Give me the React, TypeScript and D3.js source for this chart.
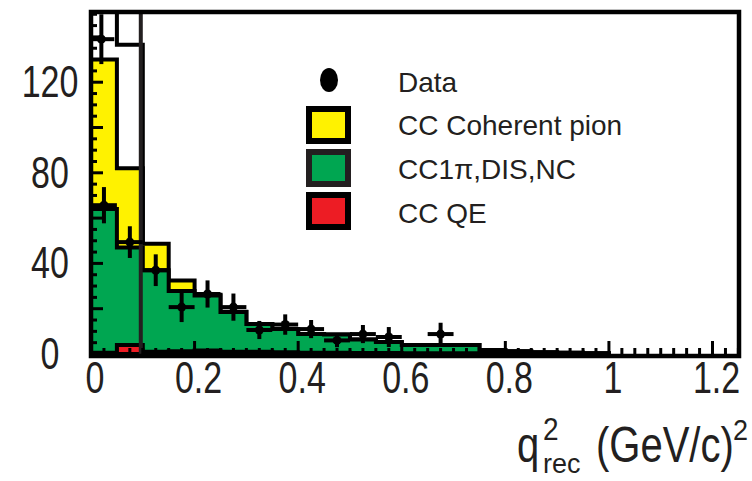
import React from 'react';
import * as d3 from 'd3';

// bin width 0.05 GeV^2, bins start at 0
const binWidth = 0.05;
const ccCoherent = [66, 35, 11.7, 4.6, 0.4, 0.2, 0.1, 0, 0, 0, 0, 0, 0, 0, 0, 0, 0, 0, 0, 0];
const cc1piDisNc = [63.5, 43, 36, 26.6, 24.3, 17.5, 12.2, 10.2, 8.2, 8.1, 6, 4.9, 3.7, 3.7, 3.7, 1.6, 1, 0.7, 0.4, 0.2];
const ccQE = [0.5, 4, 1, 1.2, 1.5, 1, 1, 0.8, 0.6, 0.5, 0.4, 0.4, 0.3, 0.3, 0.3, 0.2, 0.2, 0.1, 0.1, 0.1];
// open histogram in the signal region (q2 < 0.1)
const openHist = [175, 136.5];

const dataQ = [0.02, 0.025, 0.075, 0.125, 0.175, 0.225, 0.275, 0.325, 0.375, 0.425, 0.475, 0.525, 0.575, 0.675];
const dataN = [139, 65.7, 49.4, 37, 20.7, 26.5, 20.7, 10.6, 13, 11, 6, 8.8, 7.5, 8.8];
const dataErr = [11, 8, 7, 7, 6.6, 6, 6, 4, 4.5, 4, 3, 4, 4.4, 5];

const xTicks = [0, 0.2, 0.4, 0.6, 0.8, 1, 1.2];
const xTickLabels = ['0', '0.2', '0.4', '0.6', '0.8', '1', '1.2'];
const yTicks = [0, 40, 80, 120];

const legendItems = [
  { label: 'CC Coherent pion', color: '#fff200', stroke: '#000' },
  { label: 'CC1\u03c0,DIS,NC', color: '#00a651', stroke: '#231f20' },
  { label: 'CC QE', color: '#ed1c24', stroke: '#000' },
];

const W = 752;
const H = 481;
const font = '"Liberation Sans", Arial, Helvetica, sans-serif';
const ink = '#231f20';

export default function App() {
  const x = d3.scaleLinear().domain([0, 1.255]).range([91, 741]);
  const y = d3.scaleLinear().domain([0, 151]).range([354, 12]);

  const stackQE = ccQE;
  const stackGreen = cc1piDisNc.map((v, i) => v + ccQE[i]);
  const stackYellow = ccCoherent.map((v, i) => v + stackGreen[i]);

  const line = d3.line<[number, number]>().x(d => x(d[0])).y(d => y(d[1]));
  const histPath = (vals: number[]) => {
    const pts: [number, number][] = [[0, 0]];
    vals.forEach((v, i) => {
      pts.push([i * binWidth, v]);
      pts.push([(i + 1) * binWidth, v]);
    });
    pts.push([vals.length * binWidth, 0]);
    return line(pts) + 'Z';
  };

  const minorX = d3.range(0, 1.2501, 0.025);
  const minorY = d3.range(0, 151, 5);

  return (
    <svg width={W} height={H} style={{ position: 'absolute', left: 0, top: 0, background: '#fff' }}>
      <defs>
        <clipPath id="plot">
          <rect x={91} y={12} width={648} height={343} />
        </clipPath>
      </defs>
      <g clipPath="url(#plot)">
        <path d={histPath(openHist)} fill="#fff" stroke="#000" strokeWidth={4} />
        <path d={histPath(stackYellow)} fill="#fff200" stroke="#000" strokeWidth={4} />
        <path d={histPath(stackGreen)} fill="#00a651" stroke="#000" strokeWidth={4} />
        <path d={histPath(stackQE)} fill="#ed1c24" stroke="#000" strokeWidth={4} />
        <line x1={x(0.1) - 2} x2={x(0.1) - 2} y1={y(151)} y2={y(0)} stroke={ink} strokeWidth={4} />
        {dataQ.map((q, i) => (
          <g key={i}>
            <line x1={x(q - binWidth / 2)} x2={x(q + binWidth / 2)} y1={y(dataN[i])} y2={y(dataN[i])} stroke="#000" strokeWidth={4} />
            <line x1={x(q)} x2={x(q)} y1={y(dataN[i] - dataErr[i])} y2={y(dataN[i] + dataErr[i])} stroke="#000" strokeWidth={4} />
            <circle cx={x(q)} cy={y(dataN[i])} r={4.5} fill="#000" />
          </g>
        ))}
      </g>

      {/* ticks */}
      {minorX.map((t, i) => {
        const major = Math.abs(t / 0.2 - Math.round(t / 0.2)) < 1e-6;
        return <line key={'mx' + i} x1={x(t)} x2={x(t)} y1={354} y2={354 - (major ? 13 : 6)} stroke="#000" strokeWidth={3} />;
      })}
      {minorY.map((t, i) => (
        <line key={'my' + i} x1={91} x2={91 + (t % 20 === 0 ? 12 : 6)} y1={y(t)} y2={y(t)} stroke="#000" strokeWidth={3} />
      ))}

      <rect x={91} y={12} width={648} height={344} fill="none" stroke="#000" strokeWidth={4.5} />

      {xTicks.map((t, i) => (
        <text key={'xl' + i} transform={`translate(${x(t) + 4},${393}) scale(1,1.3)`} textAnchor="middle"
          fontFamily={font} fontSize={34} fill={ink}>{xTickLabels[i]}</text>
      ))}
      {yTicks.map((t, i) => (
        <text key={'yl' + i} transform={`translate(50,${y(t) + 15}) scale(1,1.3)`} textAnchor="middle"
          fontFamily={font} fontSize={34} fill={ink}>{t}</text>
      ))}

      {/* axis title */}
      <g fontFamily={font} fill={ink}>
        <text transform="translate(517,462) scale(1,1.25)" fontSize={40}>q</text>
        <text transform="translate(543,440) scale(1,1.1)" fontSize={28}>2</text>
        <text transform="translate(543,473) scale(1,1.05)" fontSize={27}>rec</text>
        <text transform="translate(596,462) scale(1,1.25)" fontSize={40}>(GeV/c)</text>
        <text transform="translate(733,440) scale(1,1.1)" fontSize={27}>2</text>
      </g>

      {/* legend */}
      <ellipse cx={329} cy={80} rx={9} ry={12} fill="#000" />
      <text x={398} y={92} fontFamily={font} fontSize={28} fill={ink}>Data</text>
      {legendItems.map((d, i) => (
        <g key={d.label}>
          <rect x={309} y={109 + i * 43} width={39} height={32} fill={d.color} stroke={d.stroke} strokeWidth={6} />
          <text x={398} y={135 + i * 44} fontFamily={font} fontSize={28} fill={ink}>{d.label}</text>
        </g>
      ))}
    </svg>
  );
}
